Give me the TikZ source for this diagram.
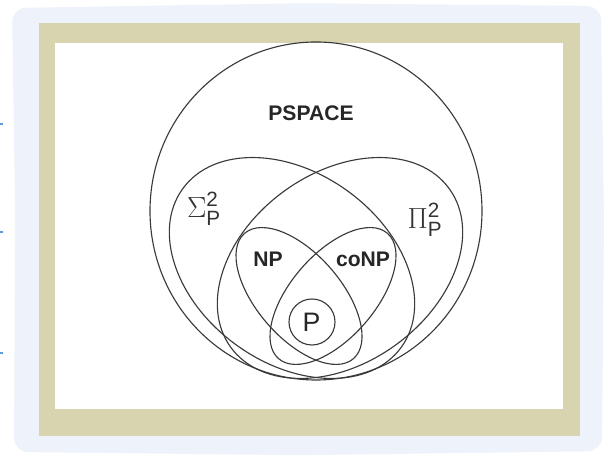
\documentclass[tikz,border=0pt]{standalone}
\usepackage{fontspec}
\setsansfont{Liberation Sans}
\usepackage{amsmath}
\usetikzlibrary{positioning}
\definecolor{paneBlue}{HTML}{EEF2FA}
\definecolor{frameTan}{HTML}{D8D4B0}
\definecolor{lineGray}{HTML}{3A3A3A}
\definecolor{tickBlue}{HTML}{5B9BE0}

\begin{document}
\begin{tikzpicture}[
    set/.style={draw=lineGray, line width=0.8pt},
    cls/.style={font=\sffamily\bfseries\fontsize{15}{18}\selectfont, text=black!85, inner sep=1pt},
    hier/.style={font=\fontsize{21}{24}\selectfont, text=black!80, inner sep=1pt},
  ]
    \useasboundingbox (0,0) rectangle (15.325,11.5);
    % ─── Background and frame ───
    \fill[paneBlue, rounded corners=10pt] (0.35,0.2) -- (7.5,0.12) -- (15.05,0.22)
      -- (15.1,6.0) -- (15.02,11.35) -- (7.6,11.42) -- (0.3,11.3) -- (0.38,6.2) -- cycle;
    \fill[frameTan] (0.975,0.6) rectangle (14.5,10.925);
    \fill[white] (1.375,1.275) rectangle (14.075,10.425);
    \foreach \y in {8.4,5.7,2.675}{
      \draw[tickBlue, line width=1pt] (0,\y) -- (0.08,\y);
    }
    % ─── Centres of the classes ───
    \coordinate (cPspace) at (7.9,6.225);
    \coordinate (cSigma) at (7.3,4.8);
    \coordinate (cPi) at (8.5,4.8);
    \coordinate (cNp) at (7.475,4.1);
    \coordinate (cConp) at (8.325,4.1);
    \coordinate (cP) at (7.8,3.45);
    % ─── Sets ───
    \draw[set] (cPspace) ellipse [x radius=4.15, y radius=4.225];
    \draw[set, rotate around={-36:(cSigma)}] (cSigma) ellipse [x radius=3.375, y radius=2.375];
    \draw[set, rotate around={36:(cPi)}] (cPi) ellipse [x radius=3.375, y radius=2.375];
    \draw[set, rotate around={-49:(cNp)}] (cNp) ellipse [x radius=2.075, y radius=1.05];
    \draw[set, rotate around={49:(cConp)}] (cConp) ellipse [x radius=2.075, y radius=1.05];
    \draw[set] (cP) circle [radius=0.575];
    % ─── Labels ───
    \node[cls] (pspace) at (7.775,8.675) {PSPACE};
    \node[cls] (np) at (6.7,5.025) {NP};
    \node[cls] (conp) at (9.075,5.025) {coNP};
    \node[hier] (sigma) at (5.1,6.275) {$\Sigma^{\text{\sffamily 2}}_{\text{\sffamily P}}$};
    \node[hier] (pi) at (10.625,6.0) {$\Pi^{\text{\sffamily 2}}_{\text{\sffamily P}}$};
    \node[font=\sffamily\fontsize{19}{22}\selectfont, text=black!85] (p) at (7.79,3.45) {P};
  \end{tikzpicture}
\end{document}
